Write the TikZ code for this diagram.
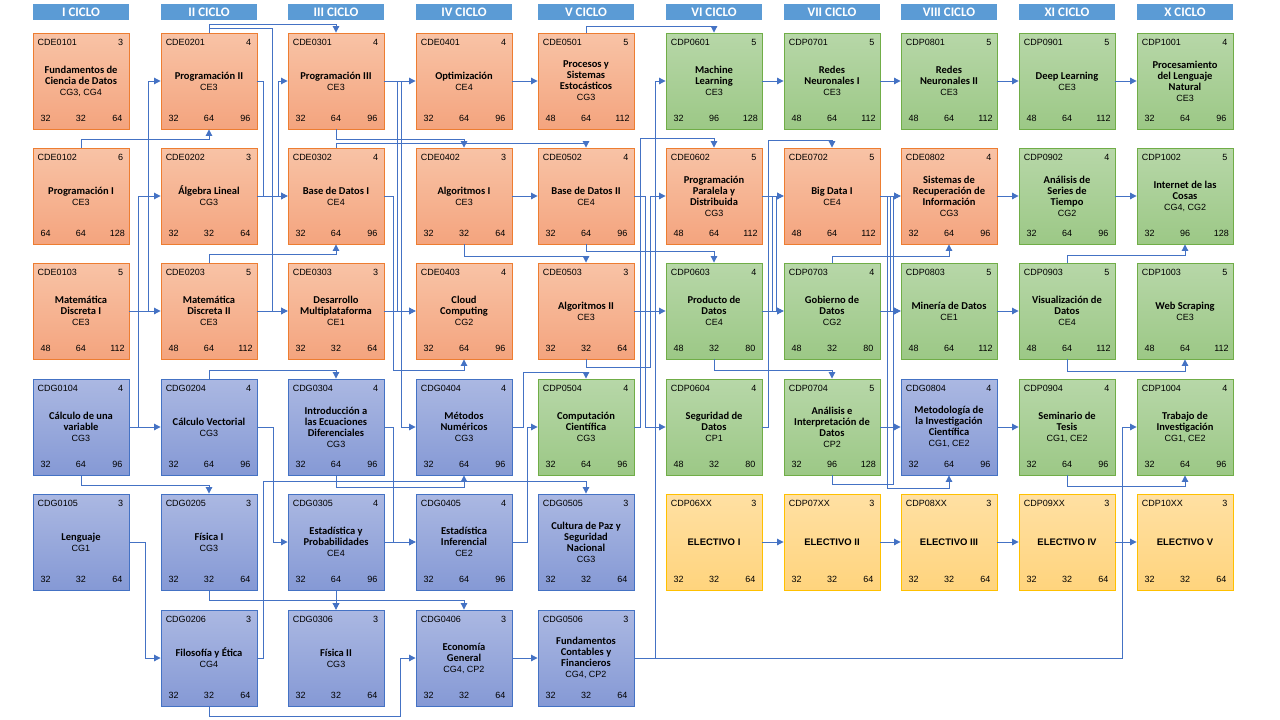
\documentclass[tikz,border=0pt]{standalone}
\usepackage{fontspec}
\setmainfont{Liberation Sans}
\newfontfamily\carl{Carlito}
\usetikzlibrary{arrows.meta}
\definecolor{orB}{HTML}{ED7D31}\definecolor{orT}{HTML}{F8C3A6}\definecolor{orBo}{HTML}{F4A47E}
\definecolor{grB}{HTML}{70AD47}\definecolor{grT}{HTML}{B7D7A8}\definecolor{grBo}{HTML}{9CC886}
\definecolor{blB}{HTML}{4472C4}\definecolor{blT}{HTML}{ABB8E2}\definecolor{blBo}{HTML}{8599D5}
\definecolor{yeB}{HTML}{FFC000}\definecolor{yeT}{HTML}{FFE0A3}\definecolor{yeBo}{HTML}{FFD47D}
\definecolor{hdrC}{HTML}{5B9BD5}\definecolor{connC}{HTML}{4472C4}
\newcommand\titf{\carl\bfseries\fontsize{10.5}{11}\selectfont}
\newcommand\subf{\normalfont\fontsize{9}{11}\selectfont}
\newcommand\elf{\normalfont\bfseries\fontsize{9.5}{11}\selectfont}
\tikzset{
  box/.style={draw, line width=0.9pt, minimum width=96pt, minimum height=96pt, inner sep=0pt},
  orng/.style={draw=orB, top color=orT, bottom color=orBo},
  grn/.style={draw=grB, top color=grT, bottom color=grBo},
  blu/.style={draw=blB, top color=blT, bottom color=blBo},
  yel/.style={draw=yeB, top color=yeT, bottom color=yeBo},
  ctext/.style={font=\fontsize{9}{10}\selectfont, inner sep=0pt},
  ttext/.style={font=\titf, align=center, inner sep=0pt},
  hdr/.style={fill=hdrC, text=white, minimum width=96pt, minimum height=16pt, inner sep=0pt, font=\carl\bfseries\fontsize{13}{13}\selectfont},
  conn/.style={draw=connC, line width=1pt, -{Triangle[length=6.5pt,width=6.5pt]}}
}
\newcommand\crs[7]{%
  \node[box,#1] (#2) at (#3,#4) {};
  \node[ctext,anchor=west] at ([xshift=5pt,yshift=-10pt]#2.north west) {#2};
  \foreach \qa/\qb/\qc/\qd in {#5}{%
    \node[ctext,anchor=east] at ([xshift=-6pt,yshift=-10pt]#2.north east) {\qa};
    \node[ctext] at ([xshift=13pt,yshift=-86pt]#2.north west) {\qb};
    \node[ctext] at ([yshift=-86pt]#2.north) {\qc};
    \node[ctext] at ([xshift=-12pt,yshift=-86pt]#2.north east) {\qd};
  }
  \node[ttext] at (#2.center) {#6\ifx\relax#7\relax\else\\{\subf #7}\fi};
}
\begin{document}
\begin{tikzpicture}[x=1pt,y=-1pt]
\fill[white] (0,0) rectangle (1280,720);
\useasboundingbox (0,0) rectangle (1280,720);
% headers
\node[hdr] (h1) at (81,12) {I CICLO};
\node[hdr] (h2) at (209,12) {II CICLO};
\node[hdr] (h3) at (336,12) {III CICLO};
\node[hdr] (h4) at (464,12) {IV CICLO};
\node[hdr] (h5) at (586,12) {V CICLO};
\node[hdr] (h6) at (714,12) {VI CICLO};
\node[hdr] (h7) at (832,12) {VII CICLO};
\node[hdr] (h8) at (949,12) {VIII CICLO};
\node[hdr] (h9) at (1067,12) {XI CICLO};
\node[hdr] (h10) at (1185,12) {X CICLO};
% column 1
\crs{orng}{CDE0101}{81}{81}{3/32/32/64}{Fundamentos de\\Ciencia de Datos}{CG3, CG4}
\crs{orng}{CDE0102}{81}{196}{6/64/64/128}{Programación I}{CE3}
\crs{orng}{CDE0103}{81}{311}{5/48/64/112}{Matemática\\Discreta I}{CE3}
\crs{blu}{CDG0104}{81}{427}{4/32/64/96}{Cálculo de una\\variable}{CG3}
\crs{blu}{CDG0105}{81}{542}{3/32/32/64}{Lenguaje}{CG1}
% column 2
\crs{orng}{CDE0201}{209}{81}{4/32/64/96}{Programación II}{CE3}
\crs{orng}{CDE0202}{209}{196}{3/32/32/64}{Álgebra Lineal}{CG3}
\crs{orng}{CDE0203}{209}{311}{5/48/64/112}{Matemática\\Discreta II}{CE3}
\crs{blu}{CDG0204}{209}{427}{4/32/64/96}{Cálculo Vectorial}{CG3}
\crs{blu}{CDG0205}{209}{542}{3/32/32/64}{Física I}{CG3}
\crs{blu}{CDG0206}{209}{658}{3/32/32/64}{Filosofía y Ética}{CG4}
% column 3
\crs{orng}{CDE0301}{336}{81}{4/32/64/96}{Programación III}{CE3}
\crs{orng}{CDE0302}{336}{196}{4/32/64/96}{Base de Datos I}{CE4}
\crs{orng}{CDE0303}{336}{311}{3/32/32/64}{Desarrollo\\Multiplataforma}{CE1}
\crs{blu}{CDG0304}{336}{427}{4/32/64/96}{Introducción a\\las Ecuaciones\\Diferenciales}{CG3}
\crs{blu}{CDG0305}{336}{542}{4/32/64/96}{Estadística y\\Probabilidades}{CE4}
\crs{blu}{CDG0306}{336}{658}{3/32/32/64}{Física II}{CG3}
% column 4
\crs{orng}{CDE0401}{464}{81}{4/32/64/96}{Optimización}{CE4}
\crs{orng}{CDE0402}{464}{196}{3/32/32/64}{Algoritmos I}{CE3}
\crs{orng}{CDE0403}{464}{311}{4/32/64/96}{Cloud\\Computing}{CG2}
\crs{blu}{CDG0404}{464}{427}{4/32/64/96}{Métodos\\Numéricos}{CG3}
\crs{blu}{CDG0405}{464}{542}{4/32/64/96}{Estadística\\Inferencial}{CE2}
\crs{blu}{CDG0406}{464}{658}{3/32/32/64}{Economía\\General}{CG4, CP2}
% column 5
\crs{orng}{CDE0501}{586}{81}{5/48/64/112}{Procesos y\\Sistemas\\Estocásticos}{CG3}
\crs{orng}{CDE0502}{586}{196}{4/32/64/96}{Base de Datos II}{CE4}
\crs{orng}{CDE0503}{586}{311}{3/32/32/64}{Algoritmos II}{CE3}
\crs{grn}{CDP0504}{586}{427}{4/32/64/96}{Computación\\Científica}{CG3}
\crs{blu}{CDG0505}{586}{542}{3/32/32/64}{Cultura de Paz y\\Seguridad\\Nacional}{CG3}
\crs{blu}{CDG0506}{586}{658}{3/32/32/64}{Fundamentos\\Contables y\\Financieros}{CG4, CP2}
% column 6
\crs{grn}{CDP0601}{714}{81}{5/32/96/128}{Machine\\Learning}{CE3}
\crs{orng}{CDE0602}{714}{196}{5/48/64/112}{Programación\\Paralela y\\Distribuida}{CG3}
\crs{grn}{CDP0603}{714}{311}{4/48/32/80}{Producto de\\Datos}{CE4}
\crs{grn}{CDP0604}{714}{427}{4/48/32/80}{Seguridad de\\Datos}{CP1}
\crs{yel}{CDP06XX}{714}{542}{3/32/32/64}{{\elf ELECTIVO I}}{}
% column 7
\crs{grn}{CDP0701}{832}{81}{5/48/64/112}{Redes\\Neuronales I}{CE3}
\crs{orng}{CDE0702}{832}{196}{5/48/64/112}{Big Data I}{CE4}
\crs{grn}{CDP0703}{832}{311}{4/48/32/80}{Gobierno de\\Datos}{CG2}
\crs{grn}{CDP0704}{832}{427}{5/32/96/128}{Análisis e\\Interpretación de\\Datos}{CP2}
\crs{yel}{CDP07XX}{832}{542}{3/32/32/64}{{\elf ELECTIVO II}}{}
% column 8
\crs{grn}{CDP0801}{949}{81}{5/48/64/112}{Redes\\Neuronales II}{CE3}
\crs{orng}{CDE0802}{949}{196}{4/32/64/96}{Sistemas de\\Recuperación de\\Información}{CG3}
\crs{grn}{CDP0803}{949}{311}{5/48/64/112}{Minería de Datos}{CE1}
\crs{blu}{CDG0804}{949}{427}{4/32/64/96}{Metodología de\\la Investigación\\Científica}{CG1, CE2}
\crs{yel}{CDP08XX}{949}{542}{3/32/32/64}{{\elf ELECTIVO III}}{}
% column 9
\crs{grn}{CDP0901}{1067}{81}{5/48/64/112}{Deep Learning}{CE3}
\crs{grn}{CDP0902}{1067}{196}{4/32/64/96}{Análisis de\\Series de\\Tiempo}{CG2}
\crs{grn}{CDP0903}{1067}{311}{5/48/64/112}{Visualización de\\Datos}{CE4}
\crs{grn}{CDP0904}{1067}{427}{4/32/64/96}{Seminario de\\Tesis}{CG1, CE2}
\crs{yel}{CDP09XX}{1067}{542}{3/32/32/64}{{\elf ELECTIVO IV}}{}
% column 10
\crs{grn}{CDP1001}{1185}{81}{4/32/64/96}{Procesamiento\\del Lenguaje\\Natural}{CE3}
\crs{grn}{CDP1002}{1185}{196}{5/32/96/128}{Internet de las\\Cosas}{CG4, CG2}
\crs{grn}{CDP1003}{1185}{311}{5/48/64/112}{Web Scraping}{CE3}
\crs{grn}{CDP1004}{1185}{427}{4/32/64/96}{Trabajo de\\Investigación}{CG1, CE2}
\crs{yel}{CDP10XX}{1185}{542}{3/32/32/64}{{\elf ELECTIVO V}}{}
% ---------- connectors: gap 1-2
\draw[conn] (CDE0102.north) |- (209,139) -- (CDE0201.south);
\draw[conn] (CDE0103.east) -- (CDE0203.west);
\draw[conn] (CDE0103.east) -- (148,311) |- (CDE0201.west);
\draw[conn] (CDG0104.east) -- (CDG0204.west);
\draw[conn] (CDG0104.east) -- (138,427) |- (CDE0202.west);
\draw[conn] (CDG0104.south) |- (209,485) -- (CDG0205.north);
\draw[conn] (CDG0105.east) -- (145,542) |- (CDG0206.west);
% gap 2-3
\draw[conn] (CDE0201.north) |- (336,24) -- (CDE0301.north);
\draw[conn] (CDE0201.north) |- (272,28) |- (CDE0303.west);
\draw[conn] (CDE0201.east) -- (263,81) |- (CDE0302.west);
\draw[conn] (CDE0202.east) -- (CDE0302.west);
\draw[conn] (CDE0202.east) -- (278,196) |- (CDE0301.west);
\draw[conn] (CDE0203.east) -- (CDE0303.west);
\draw[conn] (CDE0203.north) |- (336,254) -- (CDE0302.south);
\draw[conn] (CDG0204.north) |- (336,370) -- (CDG0304.north);
\draw[conn] (CDG0204.east) -- (273,427) |- (CDG0305.west);
\draw[conn] (CDG0206.east) -- (263,658) |- (586,481) -- (CDG0505.north);
\draw[conn] (CDG0206.south) |- (400,716) |- (CDG0406.west);
\draw[conn] (CDG0205.south) |- (336,600) -- (CDG0306.north);
\draw[conn] (CDG0305.south) -- (CDG0306.north);
\draw[conn] (CDG0305.south) |- (464,600) -- (CDG0406.north);
% gap 3-4
\draw[conn] (CDE0301.east) -- (CDE0401.west);
\draw[conn] (CDE0301.east) -- (401,81) |- (CDG0404.west);
\draw[conn] (CDE0301.east) -- (397,81) |- (CDE0403.west);
\draw[conn] (CDE0302.east) -- (393,196) |- (464,370) -- (CDE0403.south);
\draw[conn] (CDE0303.east) -- (CDE0403.west);
\draw[conn] (CDG0304.east) -- (393,427) |- (CDG0405.west);
\draw[conn] (CDG0305.east) -- (CDG0405.west);
\draw[conn] (CDE0301.south) |- (464,139) -- (CDE0402.north);
\draw[conn] (CDE0302.north) |- (586,143) -- (CDE0502.north);
\draw[conn] (CDG0304.south) |- (464,487) -- (CDG0404.south);
% gap 4-5
\draw[conn] (CDE0401.east) -- (CDE0501.west);
\draw[conn] (CDE0402.east) -- (CDE0502.west);
\draw[conn] (CDE0402.south) |- (586,256) -- (CDE0503.north);
\draw[conn] (CDG0404.east) -- (523,427) |- (586,372) -- (CDP0504.north);
\draw[conn] (CDG0405.east) -- (527,542) |- (CDP0504.west);
\draw[conn] (CDG0406.east) -- (CDG0506.west);
% gap 5-6
\draw[conn] (CDE0501.north) |- (714,26) -- (CDP0601.north);
\draw[conn] (CDE0502.south) |- (714,251) -- (CDP0603.north);
\draw[conn] (CDE0503.east) -- (CDP0603.west);
\draw[conn] (CDE0502.east) -- (645,196) |- (CDP0604.west);
\draw[conn] (CDE0503.south) |- (650,367) |- (CDE0602.west);
\draw[conn] (CDP0504.east) -- (640,427) |- (714,138) -- (CDE0602.north);
\draw[conn] (CDG0506.east) -- (655,658) |- (CDP0601.west);
\draw[conn] (CDG0506.east) -- (1122,658) |- (CDP1004.west);
% gap 6-7
\draw[conn] (CDP0601.east) -- (CDP0701.west);
\draw[conn] (CDE0602.east) -- (CDE0702.west);
\draw[conn] (CDE0602.east) -- (772,196) |- (CDP0703.west);
\draw[conn] (CDP0603.east) -- (CDP0703.west);
\draw[conn] (CDP0603.east) -- (776,311) |- (CDE0702.west);
\draw[conn] (CDP0604.east) -- (768,427) |- (832,140) -- (CDE0702.north);
\draw[conn] (CDP0603.south) |- (832,370) -- (CDP0704.north);
\draw[conn] (CDP06XX.east) -- (CDP07XX.west);
% gap 7-8
\draw[conn] (CDP0701.east) -- (CDP0801.west);
\draw[conn] (CDE0702.east) -- (CDE0802.west);
\draw[conn] (CDE0702.east) -- (887,196) |- (949,488) -- (CDG0804.south);
\draw[conn] (CDE0702.east) -- (890,196) |- (CDP0803.west);
\draw[conn] (CDP0704.south) |- (893,484) |- (CDE0802.west);
\draw[conn] (CDP0703.east) -- (CDP0803.west);
\draw[conn] (CDP0704.east) -- (CDG0804.west);
\draw[conn] (CDP0703.north) |- (949,256) -- (CDE0802.south);
\draw[conn] (CDP07XX.east) -- (CDP08XX.west);
% gap 8-9
\draw[conn] (CDP0801.east) -- (CDP0901.west);
\draw[conn] (CDE0802.east) -- (CDP0902.west);
\draw[conn] (CDP0803.east) -- (CDP0903.west);
\draw[conn] (CDG0804.east) -- (CDP0904.west);
\draw[conn] (CDP08XX.east) -- (CDP09XX.west);
% gap 9-10
\draw[conn] (CDP0901.east) -- (CDP1001.west);
\draw[conn] (CDP0902.east) -- (CDP1002.west);
\draw[conn] (CDP09XX.east) -- (CDP10XX.west);
\draw[conn] (CDP0903.north) |- (1185,255) -- (CDP1002.south);
\draw[conn] (CDP0903.south) |- (1185,371) -- (CDP1003.south);
\draw[conn] (CDP0904.south) |- (1185,486) -- (CDP1004.south);
\end{tikzpicture}
\end{document}
